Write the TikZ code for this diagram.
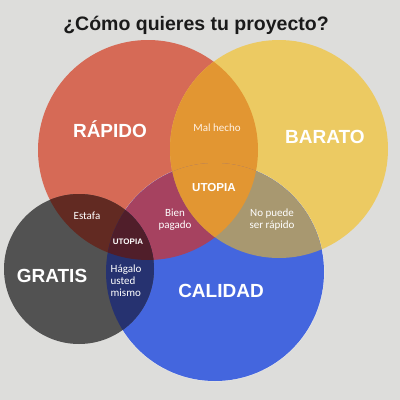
\documentclass[tikz,border=0pt]{standalone}
\usepackage{fontspec}
\setmainfont{Liberation Sans}
\newfontfamily\lblfont{Carlito}
\definecolor{bgc}{RGB}{221,221,219}
\definecolor{cred}{RGB}{214,106,86}
\definecolor{cyel}{RGB}{236,202,98}
\definecolor{cblue}{RGB}{68,102,222}
\definecolor{cgray}{RGB}{82,82,82}
\definecolor{corange}{RGB}{226,150,50}
\definecolor{crb}{RGB}{166,66,96}
\definecolor{cyb}{RGB}{168,152,112}
\definecolor{cgr}{RGB}{98,42,34}
\definecolor{cgb}{RGB}{38,50,112}
\definecolor{cgrb}{RGB}{80,30,42}
\definecolor{ctitle}{RGB}{26,26,26}
\begin{document}
\begin{tikzpicture}[x=1pt,y=-1pt,
  big/.style={text=white,font=\bfseries\fontsize{19}{21}\selectfont,inner sep=0pt},
  small/.style={text=white,font=\lblfont\fontsize{11}{13}\selectfont,inner sep=0pt,align=center},
  utop/.style={text=white,font=\bfseries\fontsize{#1}{#1}\selectfont,inner sep=0pt}]
\fill[bgc] (0,0) rectangle (400,400);
\useasboundingbox (0,0) rectangle (400,400);
\def\Rc{(148,150) circle[radius=110]}
\def\Yc{(279,149) circle[radius=109]}
\def\Gc{(79,269) circle[radius=75]}
\def\Bc{(215,272) circle[radius=109]}
% base circles
\fill[cred] \Rc;
\fill[cyel] \Yc;
\draw[white,opacity=0.5,line width=0.8pt] \Bc;
\fill[cblue] \Bc;
\fill[cgray] \Gc;
% intersections
\begin{scope}\clip \Rc; \fill[corange] \Yc; \end{scope}
\begin{scope}\clip \Rc; \fill[crb] \Bc; \end{scope}
\begin{scope}\clip \Yc; \fill[cyb] \Bc; \end{scope}
\begin{scope}\clip \Rc; \clip \Yc; \fill[corange] \Bc; \end{scope}
\begin{scope}\clip \Gc; \fill[cgr] \Rc; \end{scope}
\begin{scope}\clip \Gc; \fill[cgb] \Bc; \end{scope}
\begin{scope}\clip \Gc; \clip \Rc; \fill[cgrb] \Bc; \end{scope}
% title
\node[text=ctitle,font=\bfseries\fontsize{19.5}{22}\selectfont,inner sep=0pt] (title) at (196,25) {¿Cómo quieres tu proyecto?};
% labels
\node[big] (rapido) at (110,129) {RÁPIDO};
\node[big] (barato) at (325,137) {BARATO};
\node[big] (gratis) at (52,276) {GRATIS};
\node[big] (calidad) at (221,291) {CALIDAD};
\node[small,text=white!90!orange] (mal) at (217,128) {Mal hecho};
\node[utop=11.6] (utopia) at (214,188) {UTOPIA};
\node[small] (bien) at (175,219.5) {Bien\\[-1pt]pagado};
\node[small] (nopuede) at (272,219.5) {No puede\\[-1pt]ser rápido};
\node[small] (estafa) at (87,216) {Estafa};
\node[utop=8] (utopia2) at (128,242) {UTOPIA};
\node[small,align=left] (hagalo) at (126,281) {Hágalo\\[-1pt]usted\\[-1pt]mismo};
\end{tikzpicture}
\end{document}
